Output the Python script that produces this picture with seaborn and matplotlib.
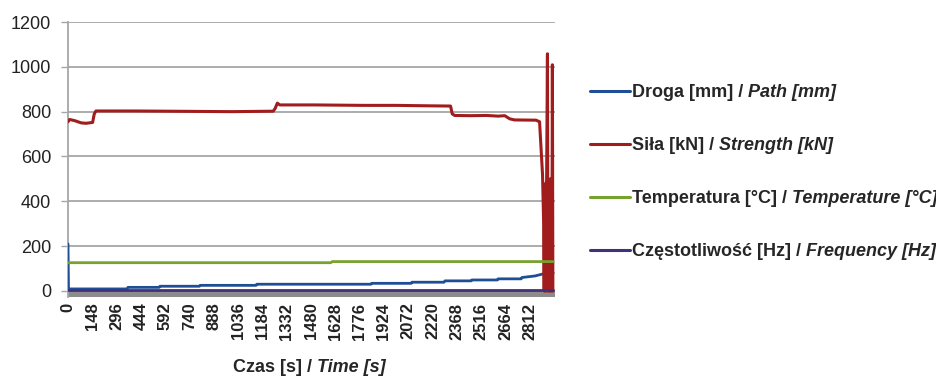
import matplotlib
matplotlib.use("Agg")
import matplotlib.pyplot as plt
import seaborn as sns
import pandas as pd

# Czas [s] i wartości
droga_t = [0, 3, 360, 365, 555, 560, 800, 805, 1145, 1150, 1500, 1845, 1850, 2090, 2095,
           2290, 2296, 2455, 2460, 2615, 2620, 2760, 2765, 2845, 2893, 2955]
droga_v = [210, 9, 9, 16, 16, 21, 21, 25, 25, 30, 30, 30, 34, 34, 39,
           39, 45, 45, 49, 49, 54, 54, 60, 67, 76, 80]

sila_t = [0, 10, 40, 80, 110, 150, 160, 170, 400, 600, 800, 1000, 1250, 1262, 1275, 1290,
          1500, 1800, 2000, 2200, 2330, 2340, 2355, 2450, 2550, 2620, 2660, 2690, 2720,
          2850, 2872, 2880, 2890, 2897, 2900, 2903, 2906, 2909, 2912, 2915, 2920, 2923,
          2926, 2929, 2932, 2935, 2938, 2941, 2944, 2947, 2950, 2953, 2955]
sila_v = [755, 765, 760, 750, 748, 752, 790, 803, 803, 802, 801, 800, 802, 815, 838, 830,
          830, 828, 828, 826, 825, 790, 783, 782, 783, 780, 782, 768, 763,
          762, 755, 650, 520, 300, 0, 450, 0, 480, 0, 500, 1058, 0, 460, 0, 480, 0,
          500, 0, 470, 0, 1009, 0, 0]

temp_t = [0, 1600, 1610, 2955]
temp_v = [126, 126, 131, 131]

freq_t = [0, 1500, 2955]
freq_v = [6, 6, 6]

x_ticks = list(range(0, 2813, 148))
y_ticks = [0, 200, 400, 600, 800, 1000, 1200]

series = [
    ("Droga [mm] /", " Path [mm]", droga_t, droga_v, "#1f4e96", 2.0),
    ("Siła [kN] /", " Strength [kN]", sila_t, sila_v, "#a11d1d", 2.2),
    ("Temperatura [°C] /", " Temperature [°C]", temp_t, temp_v, "#77a22d", 2.0),
    ("Częstotliwość [Hz] /", " Frequency [Hz]", freq_t, freq_v, "#43307a", 2.0),
]

sns.set_style("white")
plt.rcParams["font.family"] = ["Liberation Sans", "DejaVu Sans"]

W, H = 937, 378
fig = plt.figure(figsize=(W / 100, H / 100), dpi=100)
ax = fig.add_axes([68 / W, 1 - 297 / H, (555 - 68) / W, (297 - 22) / H])

ax.axhspan(-27, 0, color="#8c8c8c", zorder=1)
for y in y_ticks:
    ax.axhline(y, color="#a6a6a6", lw=1.3, zorder=0)

handles = []
for pl, en, t, v, c, lw in series:
    df = pd.DataFrame({"t": t, "v": v})
    sns.lineplot(data=df, x="t", y="v", ax=ax, color=c, lw=lw, zorder=3,
                 estimator=None, sort=False)
    handles.append(ax.lines[-1])

ax.set_xlim(0, 2966)
ax.set_ylim(-27, 1200)
ax.set_yticks(y_ticks)
ax.set_xticks(x_ticks)
ax.set_xticklabels([str(x) for x in x_ticks], rotation=90, fontsize=12,
                   fontweight="bold", color="#222222")
ax.set_yticklabels([str(y) for y in y_ticks], fontsize=13, color="#222222")
ax.tick_params(axis="x", length=0, pad=4)
ax.tick_params(axis="y", length=5, width=1, color="#a6a6a6", pad=7, left=True)
ax.set_xlabel("")
ax.set_ylabel("")
for s in ["top", "right", "bottom"]:
    ax.spines[s].set_visible(False)
ax.spines["left"].set_color("#a6a6a6")
ax.spines["left"].set_linewidth(1.3)

leg = ax.legend(handles, [s[0] for s in series], loc="upper left",
                bbox_to_anchor=(590 / W, 1 - 84 / H), bbox_transform=fig.transFigure,
                frameon=False, borderpad=0, borderaxespad=0, handlelength=2.2,
                handletextpad=0.12, labelspacing=2.0,
                prop={"size": 13, "weight": "bold"})
for line in leg.get_lines():
    line.set_linewidth(2.2)

xl = fig.text(233 / W, 1 - 368 / H, "Czas [s] /", ha="left", va="center",
              fontsize=13, fontweight="bold")

# italic English part placed right after the Polish text
fig.canvas.draw()
r = fig.canvas.get_renderer()
pairs = [(t, s[1]) for t, s in zip(leg.get_texts(), series)] + [(xl, " Time [s]")]
for txt, en in pairs:
    bb = txt.get_window_extent(r)
    fig.text(bb.x1 / W, bb.y0 / H, en, ha="left", va="bottom",
             fontsize=13, fontweight="bold", fontstyle="italic")

fig.savefig("out.png", dpi=100)
